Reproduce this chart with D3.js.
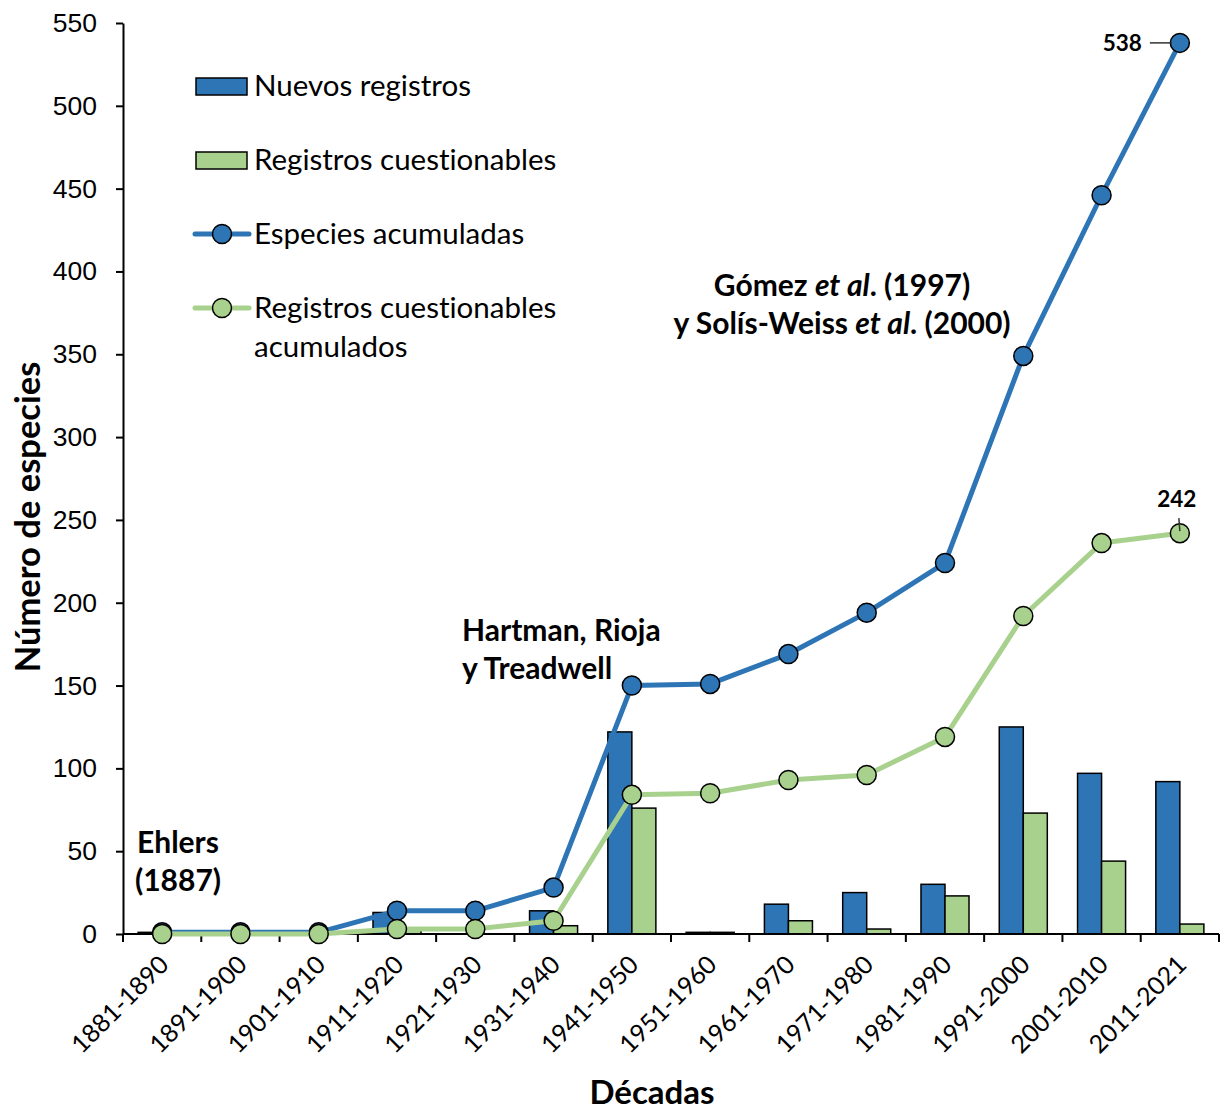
<!DOCTYPE html>
<html><head><meta charset="utf-8">
<script src="https://cdn.jsdelivr.net/npm/d3@7"></script>
<style>body{margin:0;background:#fff}svg{display:block}text{font-variant-ligatures:none;font-feature-settings:"liga" 0}</style>
</head><body>
<svg id="c" width="1220" height="1113"></svg>
<script>
const categories = ["1881-1890","1891-1900","1901-1910","1911-1920","1921-1930","1931-1940","1941-1950","1951-1960","1961-1970","1971-1980","1981-1990","1991-2000","2001-2010","2011-2021"];
const nuevos = [1,0,0,13,0,14,122,1,18,25,30,125,97,92];
const cuestionables = [0,0,0,3,0,5,76,1,8,3,23,73,44,6];
const acumuladas = [1,1,1,14,14,28,150,151,169,194,224,349,446,538];
const cuestAcum = [0,0,0,3,3,8,84,85,93,96,119,192,236,242];
const yTicks = [0,50,100,150,200,250,300,350,400,450,500,550];

const BLUE = "#2E75B6", GREEN = "#A9D18E";
const FONT = "Lato, 'Open Sans', sans-serif";
const svg = d3.select("#c");

const x = d3.scaleBand().domain(categories).range([123, 1219]).padding(0);
const x1 = d3.scaleBand().domain(["n","c"]).range([0, x.bandwidth()]).paddingInner(0).paddingOuter(0.63);
const y = d3.scaleLinear().domain([0, 550]).range([934, 23]);
const cx = d => x(d) + x.bandwidth()/2;

// bars
const g = svg.append("g");
categories.forEach((c, i) => {
  [["n", nuevos[i], BLUE], ["c", cuestionables[i], GREEN]].forEach(([k, v, col]) => {
    if (v <= 0) return;
    g.append("rect")
      .attr("x", x(c) + x1(k)).attr("width", x1.bandwidth())
      .attr("y", y(v)).attr("height", y(0) - y(v))
      .attr("fill", col).attr("stroke", "#000").attr("stroke-width", 1.5);
  });
});

// axes
const yAxis = svg.append("g").attr("transform", "translate(123,0)")
  .call(d3.axisLeft(y).tickValues(yTicks).tickSize(7).tickPadding(19).tickSizeOuter(0));
yAxis.select(".domain").attr("stroke", "#000").attr("stroke-width", 2);
yAxis.selectAll(".tick line").attr("stroke", "#000").attr("stroke-width", 2);
yAxis.selectAll(".tick text").attr("font-family", "'Liberation Sans', Arial, sans-serif").attr("font-size", 26.5).attr("fill", "#000");

svg.append("line").attr("x1", 123).attr("x2", 1219).attr("y1", y(0)).attr("y2", y(0))
  .attr("stroke", "#000").attr("stroke-width", 2);
const bounds = categories.map(c => x(c)).concat([x.range()[1]]);
svg.selectAll(".xt").data(bounds).enter().append("line")
  .attr("x1", d => d).attr("x2", d => d).attr("y1", y(0)).attr("y2", y(0) + 8)
  .attr("stroke", "#000").attr("stroke-width", 2);
svg.selectAll(".xl").data(categories).enter().append("text")
  .attr("transform", d => `translate(${cx(d) + 2},${y(0) + 26}) rotate(-45)`)
  .attr("text-anchor", "end").attr("dy", "0.35em")
  .attr("font-family", FONT).attr("font-size", 25).attr("fill", "#000")
  .text(d => d);

// lines
const line = arr => d3.line().x((d, i) => cx(categories[i])).y(d => y(d))(arr);
svg.append("path").attr("d", line(acumuladas)).attr("fill", "none").attr("stroke", BLUE).attr("stroke-width", 5).attr("stroke-linejoin", "round");
svg.selectAll(".pb").data(acumuladas).enter().append("circle")
  .attr("cx", (d, i) => cx(categories[i])).attr("cy", d => y(d)).attr("r", 9.5)
  .attr("fill", BLUE).attr("stroke", "#000").attr("stroke-width", 1.5);
svg.append("path").attr("d", line(cuestAcum)).attr("fill", "none").attr("stroke", GREEN).attr("stroke-width", 5).attr("stroke-linejoin", "round");
svg.selectAll(".pg").data(cuestAcum).enter().append("circle")
  .attr("cx", (d, i) => cx(categories[i])).attr("cy", d => y(d)).attr("r", 9.5)
  .attr("fill", GREEN).attr("stroke", "#000").attr("stroke-width", 1.5);

// value labels
const last = categories.length - 1;
svg.append("line").attr("x1", cx(categories[last]) - 30).attr("x2", cx(categories[last]) - 8)
  .attr("y1", y(acumuladas[last])).attr("y2", y(acumuladas[last])).attr("stroke", "#333").attr("stroke-width", 1.5);
svg.append("text").attr("x", cx(categories[last]) - 38).attr("y", y(acumuladas[last]) + 8)
  .attr("text-anchor", "end").attr("font-family", FONT).attr("font-weight", "bold").attr("font-size", 22.5).text(acumuladas[last]);
svg.append("line").attr("x1", cx(categories[last]) - 1).attr("x2", cx(categories[last]))
  .attr("y1", y(cuestAcum[last]) - 15).attr("y2", y(cuestAcum[last]) - 2).attr("stroke", "#333").attr("stroke-width", 1.5);
svg.append("text").attr("x", cx(categories[last]) - 3).attr("y", y(cuestAcum[last]) - 26)
  .attr("text-anchor", "middle").attr("font-family", FONT).attr("font-weight", "bold").attr("font-size", 22.5).text(cuestAcum[last]);

// annotations
function ann(lines, xx, yy, anchor) {
  const t = svg.append("text").attr("font-family", FONT).attr("font-weight", "bold").attr("font-size", 30)
    .attr("text-anchor", anchor).attr("fill", "#000");
  lines.forEach((parts, i) => {
    parts.forEach((p, j) => {
      const ts = t.append("tspan").text(p[0]);
      if (j === 0) ts.attr("x", xx).attr("y", yy + i * 38);
      if (p[1]) ts.attr("font-style", "italic");
    });
  });
}
ann([[["Ehlers"]], [["(1887)"]]], 178, 853, "middle");
ann([[["Hartman, Rioja"]], [["y Treadwell"]]], 462, 641, "start");
ann([[["Gómez "], ["et al", 1], [". (1997)"]], [["y Solís-Weiss "], ["et al", 1], [". (2000)"]]], 842, 296, "middle");

// legend
const L = svg.append("g").attr("font-family", FONT).attr("font-size", 29.5).attr("fill", "#000");
L.append("rect").attr("x", 196).attr("y", 78).attr("width", 51).attr("height", 17).attr("fill", BLUE).attr("stroke", "#000").attr("stroke-width", 1.5);
L.append("text").attr("x", 254).attr("y", 96).text("Nuevos registros");
L.append("rect").attr("x", 196).attr("y", 152).attr("width", 51).attr("height", 17).attr("fill", GREEN).attr("stroke", "#000").attr("stroke-width", 1.5);
L.append("text").attr("x", 254).attr("y", 170).text("Registros cuestionables");
L.append("line").attr("x1", 195).attr("x2", 249).attr("y1", 234).attr("y2", 234).attr("stroke", BLUE).attr("stroke-width", 5).attr("stroke-linecap", "round");
L.append("circle").attr("cx", 222).attr("cy", 234).attr("r", 9.5).attr("fill", BLUE).attr("stroke", "#000").attr("stroke-width", 1.5);
L.append("text").attr("x", 254).attr("y", 244).text("Especies acumuladas");
L.append("line").attr("x1", 195).attr("x2", 249).attr("y1", 308).attr("y2", 308).attr("stroke", GREEN).attr("stroke-width", 5).attr("stroke-linecap", "round");
L.append("circle").attr("cx", 222).attr("cy", 308).attr("r", 9.5).attr("fill", GREEN).attr("stroke", "#000").attr("stroke-width", 1.5);
L.append("text").attr("x", 254).attr("y", 318).text("Registros cuestionables");
L.append("text").attr("x", 254).attr("y", 357).text("acumulados");

// axis titles
svg.append("text").attr("transform", "translate(40,517) rotate(-90)").attr("text-anchor", "middle")
  .attr("font-family", FONT).attr("font-weight", "bold").attr("font-size", 34.5).text("Número de especies");
svg.append("text").attr("x", 652).attr("y", 1104).attr("text-anchor", "middle")
  .attr("font-family", FONT).attr("font-weight", "bold").attr("font-size", 33).text("Décadas");
</script>
</body></html>
